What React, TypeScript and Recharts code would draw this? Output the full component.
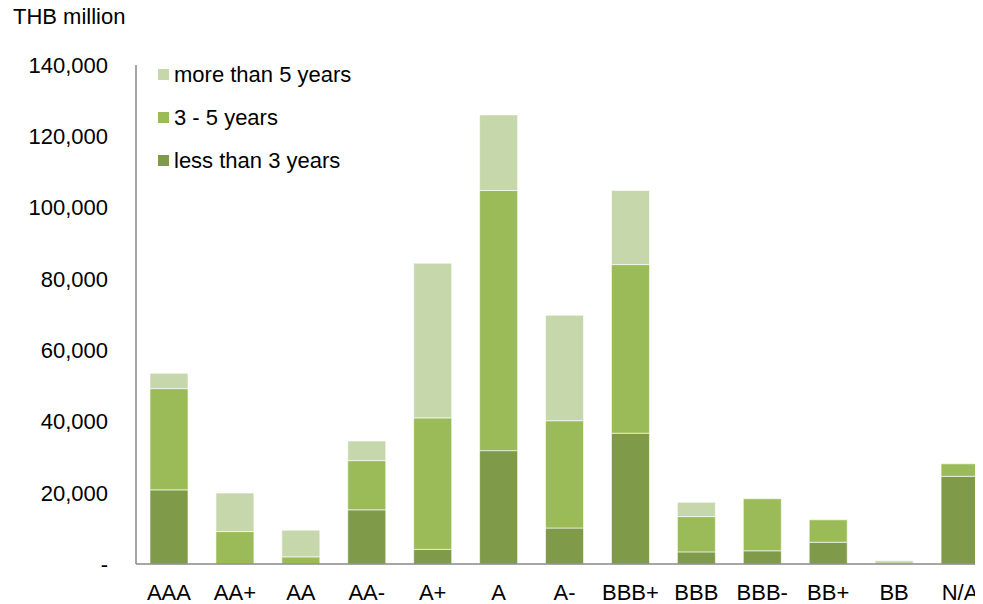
import { Bar, BarChart, XAxis, YAxis } from "recharts";

const ratings = ["AAA", "AA+", "AA", "AA-", "A+", "A", "A-", "BBB+", "BBB", "BBB-", "BB+", "BB", "N/A"];
const lessThan3 = [20800, 0, 0, 15200, 4100, 31800, 10100, 36700, 3400, 3700, 6100, 0, 24600];
const from3to5 = [28400, 9100, 2000, 13800, 36900, 73000, 30100, 47300, 9900, 14600, 6300, 0, 3500];
const moreThan5 = [4300, 10800, 7500, 5500, 43400, 21200, 29600, 20800, 4000, 0, 0, 900, 0];
const yTicks = [0, 20000, 40000, 60000, 80000, 100000, 120000, 140000];

const data = ratings.map((name, i) => ({
  name,
  less: lessThan3[i],
  mid: from3to5[i],
  more: moreThan5[i],
}));

const font = "'Liberation Sans', Arial, sans-serif";

const legendItems = [
  { label: "more than 5 years", color: "#C6D7AC" },
  { label: "3 - 5 years", color: "#9BBB59" },
  { label: "less than 3 years", color: "#7F9A48" },
];

// legend sits inside the plot area, top-left, drawn as a plain overlay
function LegendBox() {
  return (
    <div style={{ position: "absolute", left: 150, top: 45, fontSize: 22, color: "#000" }}>
      {legendItems.map((it) => (
        <div key={it.label} style={{ display: "flex", alignItems: "center", height: 43, whiteSpace: "nowrap" }}>
          <span style={{ width: 11, height: 11, background: it.color, marginRight: 5 }} />
          {it.label}
        </div>
      ))}
    </div>
  );
}

export default function App() {
  return (
    <div style={{ position: "relative", width: 1000, height: 596, fontFamily: font }}>
      <style>{"body{overflow:hidden}"}</style>
      <BarChart
        width={1000}
        height={596}
        data={data}
        margin={{ top: 57, right: 15, bottom: 0, left: 0 }}
        barSize={38}
      >
        <XAxis
          dataKey="name"
          tickLine={false}
          tickSize={0}
          tickMargin={20}
          height={40}
          stroke="#898989"
          strokeWidth={1.5}
          tick={{ fill: "#000", fontSize: 22, fontFamily: font }}
          interval={0}
        />
        <YAxis
          width={128}
          domain={[0, 140000]}
          ticks={yTicks}
          tickLine={false}
          tickSize={0}
          tickMargin={28}
          stroke="#898989"
          strokeWidth={1.5}
          tick={{ fill: "#000", fontSize: 22, fontFamily: font }}
          tickFormatter={(v: number) => (v === 0 ? "-" : v.toLocaleString("en-US"))}
        />
        <Bar dataKey="less" name="less than 3 years" stackId="a" fill="#7F9A48" stroke="#ffffff" strokeWidth={0.6} isAnimationActive={false} />
        <Bar dataKey="mid" name="3 - 5 years" stackId="a" fill="#9BBB59" stroke="#ffffff" strokeWidth={0.6} isAnimationActive={false} />
        <Bar dataKey="more" name="more than 5 years" stackId="a" fill="#C6D7AC" stroke="#ffffff" strokeWidth={0.6} isAnimationActive={false} />
      </BarChart>
      <div style={{ position: "absolute", left: 5, top: -4, fontSize: 22 }}>THB million</div>
      <LegendBox />
    </div>
  );
}
